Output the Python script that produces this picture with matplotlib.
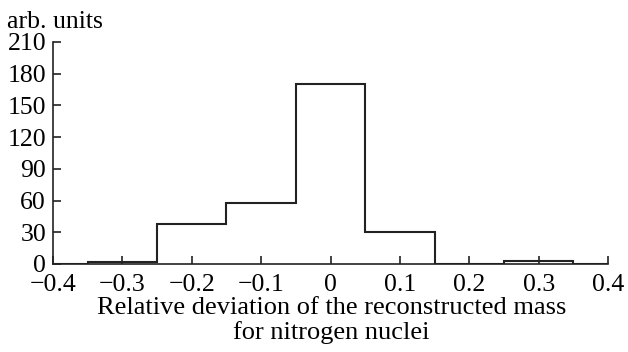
import numpy as np
import matplotlib.pyplot as plt

plt.rcParams['font.family'] = ['Liberation Serif', 'DejaVu Serif']

# bin centres and counts (bin width 0.1)
centres = [-0.4, -0.3, -0.2, -0.1, 0.0, 0.1, 0.2, 0.3, 0.4]
counts = [0, 2, 38, 58, 170, 30, 0, 3, 0]
xticks = [-0.4, -0.3, -0.2, -0.1, 0, 0.1, 0.2, 0.3, 0.4]
xticklabels = ['\u22120.4', '\u22120.3', '\u22120.2', '\u22120.1', '0', '0.1', '0.2', '0.3', '0.4']
yticks = [0, 30, 60, 90, 120, 150, 180, 210]

def main():
    fig = plt.figure(figsize=(6.28, 3.52), dpi=100)
    ax = fig.add_axes([53/628, 1-264/352, (608-53)/628, (264-42)/352])
    c = np.array(centres)
    edges = np.append(c - 0.05, c[-1] + 0.05)
    ax.stairs(counts, edges, color='#222222', linewidth=1.5)

    ax.set_xlim(-0.4, 0.4)
    ax.set_ylim(0, 210)
    ax.set_xticks(xticks)
    ax.set_xticklabels(xticklabels)
    ax.set_yticks(yticks)
    for s in ['top', 'right']:
        ax.spines[s].set_visible(False)
    for s in ['left', 'bottom']:
        ax.spines[s].set_linewidth(1.2)
        ax.spines[s].set_color('#222222')
    ax.tick_params(direction='in', length=6, width=1.2, color='#222222',
                   labelsize=18.5)
    ax.tick_params(axis='x', pad=7)
    ax.tick_params(axis='y', pad=5)
    ax.set_xlabel('Relative deviation of the reconstructed mass\nfor nitrogen nuclei',
                  fontsize=19, linespacing=1.12)
    ax.xaxis.set_label_coords(0.502, -0.148, transform=ax.transAxes)
    ax.xaxis.label.set_va('top')
    fig.text(7/628, 1-28/352, 'arb. units', fontsize=18.5, va='baseline', ha='left')

    fig.savefig('out.png', dpi=100)

if __name__ == '__main__':
    main()
